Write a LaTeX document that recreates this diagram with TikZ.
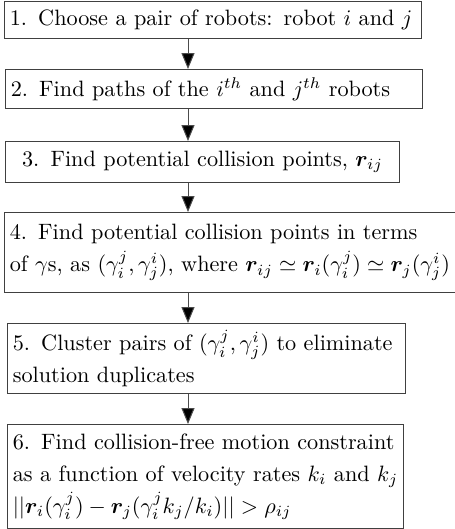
\documentclass[tikz,border=0pt]{standalone}
\usepackage{amsmath,bm}
\usetikzlibrary{arrows.meta}
\tikzset{
  stepbox/.style={draw=black!75, line width=0.45pt, anchor=north west, align=left,
    inner xsep=2.4pt, inner ysep=0.9pt, font=\fontsize{10}{14.4}\selectfont},
  flow/.style={draw=black!70, line width=0.45pt, -{Triangle[length=7.2pt,width=5.9pt,fill=black]}}
}
\begin{document}
\begin{tikzpicture}[x=0.45pt,y=0.45pt]
\useasboundingbox (0,0) rectangle (455,-529);
\node[stepbox, text width=183pt, minimum height=16.65pt] (b1) at (4,-1)
  {\mbox{1. Choose a pair of robots: robot $i$ and $j$}};
\node[stepbox, text width=182.8pt, minimum height=17.55pt] (b2) at (5,-69)
  {\mbox{2. Find paths of the $i^{th}$ and $j^{th}$ robots}};
\node[stepbox, text width=172.5pt, minimum height=18.45pt, align=center] (b3) at (5,-141)
  {\mbox{3. Find potential collision points, $\bm{r}_{ij}$}};
\node[stepbox, text width=198.2pt, minimum height=36pt] (b4) at (4,-212)
  {\mbox{4. Find potential collision points in terms}\\
   \mbox{of $\gamma$s, as $(\gamma_i^j,\gamma_j^i)$, where $\bm{r}_{ij}\simeq\bm{r}_i(\gamma_i^j)\simeq\bm{r}_j(\gamma_j^i)$}};
\node[stepbox, text width=174.3pt, minimum height=31.5pt] (b5) at (7,-323)
  {\mbox{5. Cluster pairs of $(\gamma_i^j,\gamma_j^i)$ to eliminate}\\
   \mbox{solution duplicates}};
\node[stepbox, text width=173.4pt, minimum height=46.8pt] (b6) at (7,-424)
  {\mbox{6. Find collision-free motion constraint}\\
   \mbox{as a function of velocity rates $k_i$ and $k_j$}\\
   \mbox{$||\bm{r}_i(\gamma_i^j)-\bm{r}_j(\gamma_i^j k_j/k_i)||>\rho_{ij}$}};
\coordinate (ax) at (188,0);
\draw[flow] (b1.south -| ax) -- (b2.north -| ax);
\draw[flow] (b2.south -| ax) -- (b3.north -| ax);
\draw[flow] (b3.south -| ax) -- (b4.north -| ax);
\draw[flow] (b4.south -| ax) -- (b5.north -| ax);
\draw[flow] (b5.south -| ax) -- (b6.north -| ax);
\end{tikzpicture}
\end{document}
